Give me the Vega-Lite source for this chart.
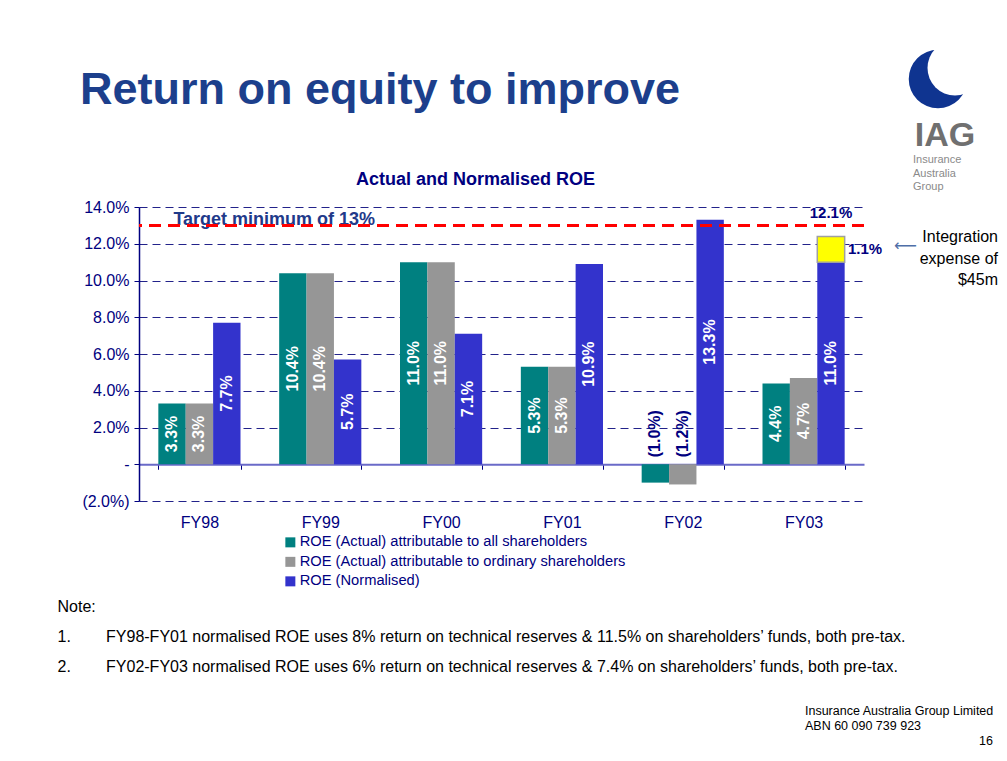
{
  "$schema": "https://vega.github.io/schema/vega-lite/v6.json",
  "width": 725,
  "height": 294,
  "autosize": {"type": "none"},
  "padding": {"left": 139, "top": 207, "right": 143, "bottom": 260},
  "background": "white",
  "config": {"font": "Liberation Sans", "view": {"stroke": null}},
  "title": {
    "text": "Return on equity to improve",
    "anchor": "start",
    "frame": "group",
    "dx": -59,
    "offset": -72,
    "fontSize": 45,
    "fontWeight": "bold",
    "color": "#1C3F8C"
  },
  "datasets": {
    "roe": [
      {"year": "FY98", "series": "ROE (Actual) attributable to all shareholders", "value": 3.3, "label": "3.3%"},
      {"year": "FY98", "series": "ROE (Actual) attributable to ordinary shareholders", "value": 3.3, "label": "3.3%"},
      {"year": "FY98", "series": "ROE (Normalised)", "value": 7.7, "label": "7.7%"},
      {"year": "FY99", "series": "ROE (Actual) attributable to all shareholders", "value": 10.4, "label": "10.4%"},
      {"year": "FY99", "series": "ROE (Actual) attributable to ordinary shareholders", "value": 10.4, "label": "10.4%"},
      {"year": "FY99", "series": "ROE (Normalised)", "value": 5.7, "label": "5.7%"},
      {"year": "FY00", "series": "ROE (Actual) attributable to all shareholders", "value": 11.0, "label": "11.0%"},
      {"year": "FY00", "series": "ROE (Actual) attributable to ordinary shareholders", "value": 11.0, "label": "11.0%"},
      {"year": "FY00", "series": "ROE (Normalised)", "value": 7.1, "label": "7.1%"},
      {"year": "FY01", "series": "ROE (Actual) attributable to all shareholders", "value": 5.3, "label": "5.3%"},
      {"year": "FY01", "series": "ROE (Actual) attributable to ordinary shareholders", "value": 5.3, "label": "5.3%"},
      {"year": "FY01", "series": "ROE (Normalised)", "value": 10.9, "label": "10.9%"},
      {"year": "FY02", "series": "ROE (Actual) attributable to all shareholders", "value": -1.0, "label": "(1.0%)"},
      {"year": "FY02", "series": "ROE (Actual) attributable to ordinary shareholders", "value": -1.1, "label": "(1.2%)"},
      {"year": "FY02", "series": "ROE (Normalised)", "value": 13.3, "label": "13.3%"},
      {"year": "FY03", "series": "ROE (Actual) attributable to all shareholders", "value": 4.4, "label": "4.4%"},
      {"year": "FY03", "series": "ROE (Actual) attributable to ordinary shareholders", "value": 4.7, "label": "4.7%"},
      {"year": "FY03", "series": "ROE (Normalised)", "value": 11.0, "label": "11.0%"}
    ]
  },
  "resolve": {"scale": {"y": "independent"}},
  "layer": [
    {
      "layer": [
        {
          "data": {"name": "roe"},
          "mark": {"type": "bar"},
          "encoding": {
            "x": {
              "field": "year", "type": "nominal", "sort": null,
              "scale": {"paddingInner": 0.32, "paddingOuter": 0.16},
              "axis": {
                "offset": -36.75,
                "tickBand": "extent",
                "labelPadding": 45,
                "labelFontSize": 16,
                "labelColor": "#000080",
                "labelAngle": 0,
                "tickSize": 5,
                "tickColor": "#000080",
                "domainColor": "#6A6AC8",
                "domainWidth": 2,
                "title": [
                  "Note:",
                  "1.\u2003\u2003\u2009FY98-FY01 normalised ROE uses 8% return on technical reserves & 11.5% on shareholders\u2019 funds, both pre-tax.",
                  "2.\u2003\u2003\u2009FY02-FY03 normalised ROE uses 6% return on technical reserves & 7.4% on shareholders\u2019 funds, both pre-tax."
                ],
                "titleX": -82,
                "titleY": 134,
                "titleAlign": "left",
                "titleAnchor": "start",
                "titleBaseline": "top",
                "titleFontSize": 16,
                "titleFontWeight": "normal",
                "titleColor": "black",
                "titleLineHeight": 30
              }
            },
            "xOffset": {"field": "series", "type": "nominal", "sort": null, "scale": {"paddingInner": 0, "paddingOuter": 0}},
            "y": {
              "field": "value", "type": "quantitative",
              "scale": {"domain": [-2, 14], "nice": false},
              "axis": {
                "values": [-2, 0, 2, 4, 6, 8, 10, 12, 14],
                "tickCount": 20,
                "labelOverlap": false,
                "labelExpr": "datum.value == 0 ? '-' : (datum.value < 0 ? '(' + format(-datum.value, '.1f') + '%)' : format(datum.value, '.1f') + '%')",
                "labelFontSize": 16,
                "labelColor": "#000080",
                "labelPadding": 5,
                "tickSize": 5,
                "tickColor": "#000080",
                "domainColor": "#000080",
                "domainWidth": 1.5,
                "grid": true,
                "gridColor": "#22228A",
                "gridDash": [8, 5],
                "gridWidth": 1,
                "title": "Actual and Normalised ROE",
                "titleAngle": 0,
                "titleX": 336,
                "titleY": -28,
                "titleAlign": "center",
                "titleBaseline": "middle",
                "titleFontSize": 18,
                "titleFontWeight": "bold",
                "titleColor": "#000080"
              }
            },
            "y2": {"datum": 0},
            "color": {
              "field": "series", "type": "nominal", "sort": null,
              "scale": {
                "domain": ["ROE (Actual) attributable to all shareholders", "ROE (Actual) attributable to ordinary shareholders", "ROE (Normalised)"],
                "range": ["#008080", "#969696", "#3333CC"]
              },
              "legend": {
                "orient": "none",
                "legendX": 144,
                "legendY": 328,
                "title": null,
                "symbolType": "square",
                "symbolSize": 100,
                "symbolStrokeWidth": 0,
                "symbolOpacity": 1,
                "labelFontSize": 14.7,
                "labelColor": "#000080",
                "labelLimit": 0,
                "labelOffset": 2,
                "rowPadding": 3.5,
                "padding": 0
              }
            }
          }
        },
        {
          "data": {"values": [{"year": "FY03", "series": "ROE (Normalised)", "low": 11.0, "high": 12.4}]},
          "mark": {"type": "bar", "color": "#FFFF00", "stroke": "#A0A0A0", "strokeWidth": 1.5},
          "encoding": {
            "x": {"field": "year", "type": "nominal", "sort": null},
            "xOffset": {"field": "series", "type": "nominal", "sort": null},
            "y": {"field": "high", "type": "quantitative"},
            "y2": {"field": "low"}
          }
        },
        {
          "data": {"name": "roe"},
          "transform": [{"filter": "datum.value < 0"}],
          "mark": {"type": "text", "angle": 270, "color": "#000080", "fontWeight": "bold", "fontSize": 16, "align": "left", "baseline": "middle", "dx": 7},
          "encoding": {
            "x": {"field": "year", "type": "nominal", "sort": null},
            "xOffset": {"field": "series", "type": "nominal", "sort": null},
            "y": {"datum": 0},
            "text": {"field": "label"}
          }
        },
        {
          "data": {"values": [{"t": "Target minimum of 13%"}]},
          "mark": {"type": "text", "color": "#1F3A8A", "fontWeight": "bold", "fontSize": 18, "align": "left", "baseline": "alphabetic", "dx": -26},
          "encoding": {"x": {"datum": "FY98"}, "y": {"datum": 13}, "text": {"field": "t"}}
        },
        {
          "data": {"values": [{}]},
          "mark": {"type": "rule", "color": "#FF0000", "strokeWidth": 3, "strokeDash": [12, 7]},
          "encoding": {"y": {"datum": 13}}
        },
        {
          "data": {"values": [{"t": "12.1%"}]},
          "mark": {"type": "text", "color": "#000080", "fontWeight": "bold", "fontSize": 15, "align": "center", "baseline": "middle", "dy": -23},
          "encoding": {"x": {"datum": "FY03"}, "xOffset": {"datum": "ROE (Normalised)"}, "y": {"datum": 12.4}, "text": {"field": "t"}}
        },
        {
          "data": {"values": [{"t": "1.1%"}]},
          "mark": {"type": "text", "color": "#000080", "fontWeight": "bold", "fontSize": 15, "align": "left", "baseline": "middle", "dx": 17},
          "encoding": {"x": {"datum": "FY03"}, "xOffset": {"datum": "ROE (Normalised)"}, "y": {"datum": 11.7}, "text": {"field": "t"}}
        },
        {
          "data": {"values": [{"t": "\u27f5"}]},
          "mark": {"type": "text", "color": "#4F6FA8", "font": "DejaVu Sans", "fontSize": 16, "align": "center", "baseline": "middle", "dx": 102, "dy": 39},
          "encoding": {"x": {"datum": "FY03"}, "y": {"datum": 14}, "text": {"field": "t"}}
        },
        {
          "data": {"values": [{"t": "Integration\nexpense of\n$45m"}]},
          "mark": {"type": "text", "color": "black", "fontSize": 16, "align": "right", "baseline": "middle", "lineBreak": "\n", "lineHeight": 21.5, "dx": 194.4, "dy": 30},
          "encoding": {"x": {"datum": "FY03"}, "y": {"datum": 14}, "text": {"field": "t"}}
        },
        {
          "data": {"values": [{"k": "outer"}]},
          "mark": {"type": "point", "shape": "circle", "filled": true, "color": "#0F3490", "opacity": 1, "size": 3421, "xOffset": 134.4, "yOffset": -128},
          "encoding": {"x": {"datum": "FY03"}, "y": {"datum": 14}}
        },
        {
          "data": {"values": [{"k": "inner"}]},
          "mark": {"type": "point", "shape": "circle", "filled": true, "color": "#FFFFFF", "opacity": 1, "size": 3019, "xOffset": 151.4, "yOffset": -139},
          "encoding": {"x": {"datum": "FY03"}, "y": {"datum": 14}}
        },
        {
          "data": {"values": [{"t": "IAG"}]},
          "mark": {"type": "text", "color": "#707070", "fontWeight": "bold", "fontSize": 34, "align": "center", "baseline": "alphabetic", "dx": 141.4, "dy": -61},
          "encoding": {"x": {"datum": "FY03"}, "y": {"datum": 14}, "text": {"field": "t"}}
        },
        {
          "data": {"values": [{"t": "Insurance\nAustralia\nGroup"}]},
          "mark": {"type": "text", "color": "#8A8A8A", "fontSize": 11, "align": "left", "baseline": "middle", "lineBreak": "\n", "lineHeight": 13.5, "dx": 109.4, "dy": -47},
          "encoding": {"x": {"datum": "FY03"}, "y": {"datum": 14}, "text": {"field": "t"}}
        },
        {
          "data": {"values": [{"t": "Insurance Australia Group Limited\nABN 60 090 739 923"}]},
          "mark": {"type": "text", "color": "black", "fontSize": 12.5, "align": "left", "baseline": "middle", "lineBreak": "\n", "lineHeight": 15, "dx": 1.4, "dy": 210},
          "encoding": {"x": {"datum": "FY03"}, "y": {"datum": -2}, "text": {"field": "t"}}
        },
        {
          "data": {"values": [{"t": "16"}]},
          "mark": {"type": "text", "color": "black", "fontSize": 12.5, "align": "right", "baseline": "middle", "dx": 189.4, "dy": 240},
          "encoding": {"x": {"datum": "FY03"}, "y": {"datum": -2}, "text": {"field": "t"}}
        }
      ]
    },
    {
      "data": {"name": "roe"},
      "transform": [{"filter": "datum.value > 0"}],
      "mark": {"type": "text", "angle": 270, "color": "white", "fontWeight": "bold", "fontSize": 16, "align": "center", "baseline": "middle"},
      "encoding": {
        "x": {"field": "year", "type": "nominal", "sort": null},
        "xOffset": {"field": "series", "type": "nominal", "sort": null},
        "y": {"field": "value", "type": "quantitative", "scale": {"domain": [-4, 28], "nice": false}, "axis": null},
        "text": {"field": "label"}
      }
    }
  ]
}
